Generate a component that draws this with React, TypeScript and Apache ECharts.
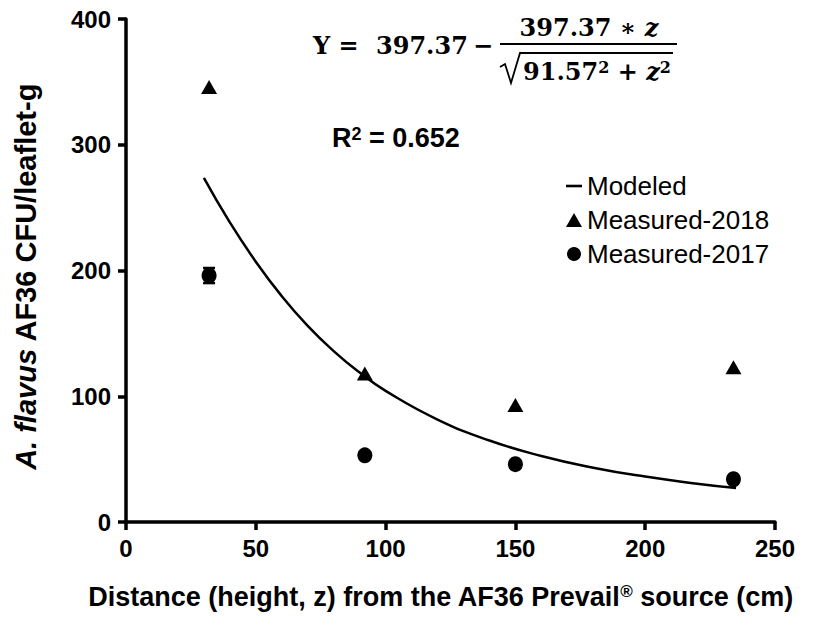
import React, { useEffect, useRef } from "react";
import * as echarts from "echarts";

// ---- data ----
const xTicks = [0, 50, 100, 150, 200, 250];
const yTicks = [0, 100, 200, 300, 400];
const distances = [32, 92, 150, 234];
const measured2018 = [346, 118, 93, 123];
const measured2017 = [196, 53, 46, 34];
const err2017 = [6, 0, 0, 0];
const modelZ = [30, 40, 50, 60, 70, 80, 90, 100, 120, 140, 160, 180, 200, 220, 235];
const modelY = [273.7, 238.3, 207.0, 179.6, 156.0, 135.9, 118.8, 104.3, 81.5, 64.8, 52.5, 43.2, 36.1, 30.5, 27.0];
const legendNames = ["Modeled", "Measured-2018", "Measured-2017"];

const SANS = '"Liberation Sans", Arial, Helvetica, sans-serif';
const SERIF = '"DejaVu Serif", "Liberation Serif", serif';

export default function App() {
  const ref = useRef<HTMLDivElement>(null);

  useEffect(() => {
    if (!ref.current) return;
    const chart = echarts.init(ref.current, null, { renderer: "svg" });

    const errData = distances
      .map((d, i) => [d, measured2017[i] - err2017[i], measured2017[i] + err2017[i]])
      .filter((_, i) => err2017[i] > 0);

    const eqMain = { fontFamily: SERIF, fontWeight: "bold", fontSize: 24, fill: "#000" };

    const option: any = {
      animation: false,
      backgroundColor: "#fff",
      grid: { left: 126, right: 39, top: 19, bottom: 110, containLabel: false, outerBoundsMode: "none" },
      xAxis: {
        type: "value",
        min: xTicks[0],
        max: xTicks[xTicks.length - 1],
        interval: 50,
        name: "Distance (height, z) from the AF36 Prevail{sup|®} source (cm)",
        nameLocation: "middle",
        nameGap: 61,
        nameTextStyle: {
          color: "#000",
          fontFamily: SANS,
          fontWeight: "bold",
          fontSize: 27,
          padding: [0, 20, 0, 0],
          rich: {
            sup: { fontFamily: SANS, fontWeight: "bold", fontSize: 17, verticalAlign: "top", color: "#000" },
          },
        },
        splitLine: { show: false },
        axisLine: { show: true, onZero: false, lineStyle: { color: "#000", width: 3.5 } },
        axisTick: { show: true, inside: false, length: 8, lineStyle: { color: "#000", width: 3.5 } },
        axisLabel: { color: "#000", fontFamily: SANS, fontWeight: "bold", fontSize: 24, margin: 14 },
      },
      yAxis: {
        type: "value",
        min: yTicks[0],
        max: yTicks[yTicks.length - 1],
        interval: 100,
        name: "{it|A. flavus} AF36 CFU/leaflet-g",
        nameLocation: "middle",
        nameRotate: 90,
        nameGap: 86,
        nameTextStyle: {
          color: "#000",
          fontFamily: SANS,
          fontWeight: "bold",
          fontSize: 29,
          padding: [0, 12, 0, 0],
          rich: {
            it: { fontFamily: SANS, fontWeight: "bold", fontStyle: "italic", fontSize: 29, color: "#000" },
          },
        },
        splitLine: { show: false },
        axisLine: { show: true, onZero: false, lineStyle: { color: "#000", width: 3.5 } },
        axisTick: { show: true, inside: false, length: 8, lineStyle: { color: "#000", width: 3.5 } },
        axisLabel: { color: "#000", fontFamily: SANS, fontWeight: "bold", fontSize: 24, margin: 15 },
      },
      legend: {
        orient: "vertical",
        left: 561,
        top: 168,
        itemWidth: 16,
        itemHeight: 14,
        itemGap: 8,
        selectedMode: false,
        data: [
          { name: legendNames[0], icon: "path://M0,0H16V2.6H0Z" },
          { name: legendNames[1], icon: "triangle" },
          { name: legendNames[2], icon: "circle" },
        ],
        textStyle: { color: "#000", fontFamily: SANS, fontSize: 26 },
      },
      series: [
        {
          name: legendNames[0],
          type: "line",
          smooth: true,
          symbol: "none",
          data: modelZ.map((z, i) => [z, modelY[i]]),
          lineStyle: { color: "#000", width: 2.5 },
          itemStyle: { color: "#000" },
          z: 2,
        },
        {
          name: legendNames[1],
          type: "scatter",
          symbol: "triangle",
          symbolSize: [16, 14],
          data: distances.map((d, i) => [d, measured2018[i]]),
          itemStyle: { color: "#000", opacity: 1 },
          z: 3,
        },
        {
          name: legendNames[2],
          type: "scatter",
          symbol: "circle",
          symbolSize: [15, 16],
          data: distances.map((d, i) => [d, measured2017[i]]),
          itemStyle: { color: "#000", opacity: 1 },
          z: 3,
        },
        {
          name: "err2017",
          type: "custom",
          data: errData,
          z: 4,
          renderItem: (params: any, api: any) => {
            const x = api.value(0);
            const lo = api.coord([x, api.value(1)]);
            const hi = api.coord([x, api.value(2)]);
            const w = 6;
            const st = { stroke: "#000", lineWidth: 2.5 };
            return {
              type: "group",
              children: [
                { type: "line", shape: { x1: lo[0], y1: lo[1], x2: hi[0], y2: hi[1] }, style: st },
                { type: "line", shape: { x1: lo[0] - w, y1: lo[1], x2: lo[0] + w, y2: lo[1] }, style: st },
                { type: "line", shape: { x1: hi[0] - w, y1: hi[1], x2: hi[0] + w, y2: hi[1] }, style: st },
              ],
            };
          },
        },
      ],
      graphic: [
        // equation
        {
          type: "text",
          x: 313,
          y: 45,
          style: { ...eqMain, text: "Y =", textAlign: "left", textVerticalAlign: "middle" },
        },
        {
          type: "text",
          x: 376,
          y: 45,
          style: { ...eqMain, text: "397.37", textAlign: "left", textVerticalAlign: "middle" },
        },
        {
          type: "text",
          x: 483,
          y: 45,
          style: { ...eqMain, text: "−", textAlign: "center", textVerticalAlign: "middle" },
        },
        {
          type: "text",
          x: 589,
          y: 27,
          style: {
            ...eqMain,
            text: "397.37 ∗ {it|z}",
            textAlign: "center",
            textVerticalAlign: "middle",
            rich: { it: { fontFamily: SERIF, fontWeight: "bold", fontStyle: "italic", fontSize: 24, fill: "#000" } },
          },
        },
        {
          type: "line",
          shape: { x1: 500, y1: 44, x2: 677, y2: 44 },
          style: { stroke: "#000", lineWidth: 1.8 },
        },
        {
          type: "polyline",
          shape: { points: [[500, 67], [505, 64], [511, 83], [520, 53], [673, 53]] },
          style: { stroke: "#000", lineWidth: 1.8, fill: "none" },
        },
        {
          type: "text",
          x: 597,
          y: 71,
          style: {
            ...eqMain,
            text: "91.57{sp|2} + {it|z}{sp|2}",
            textAlign: "center",
            textVerticalAlign: "middle",
            rich: {
              sp: { fontFamily: SERIF, fontWeight: "bold", fontSize: 16, verticalAlign: "top", fill: "#000" },
              it: { fontFamily: SERIF, fontWeight: "bold", fontStyle: "italic", fontSize: 24, fill: "#000" },
            },
          },
        },
        // R squared
        {
          type: "text",
          x: 332,
          y: 138,
          style: {
            text: "R{sp|2} = 0.652",
            fontFamily: SANS,
            fontWeight: "bold",
            fontSize: 27,
            fill: "#000",
            textAlign: "left",
            textVerticalAlign: "middle",
            rich: {
              sp: { fontFamily: SANS, fontWeight: "bold", fontSize: 18, verticalAlign: "top", fill: "#000" },
            },
          },
        },
      ],
    };

    chart.setOption(option);
    return () => chart.dispose();
  }, []);

  return (
    <div
      ref={ref}
      style={{ position: "absolute", left: 0, top: 0, width: 814, height: 632, background: "#fff" }}
    />
  );
}
